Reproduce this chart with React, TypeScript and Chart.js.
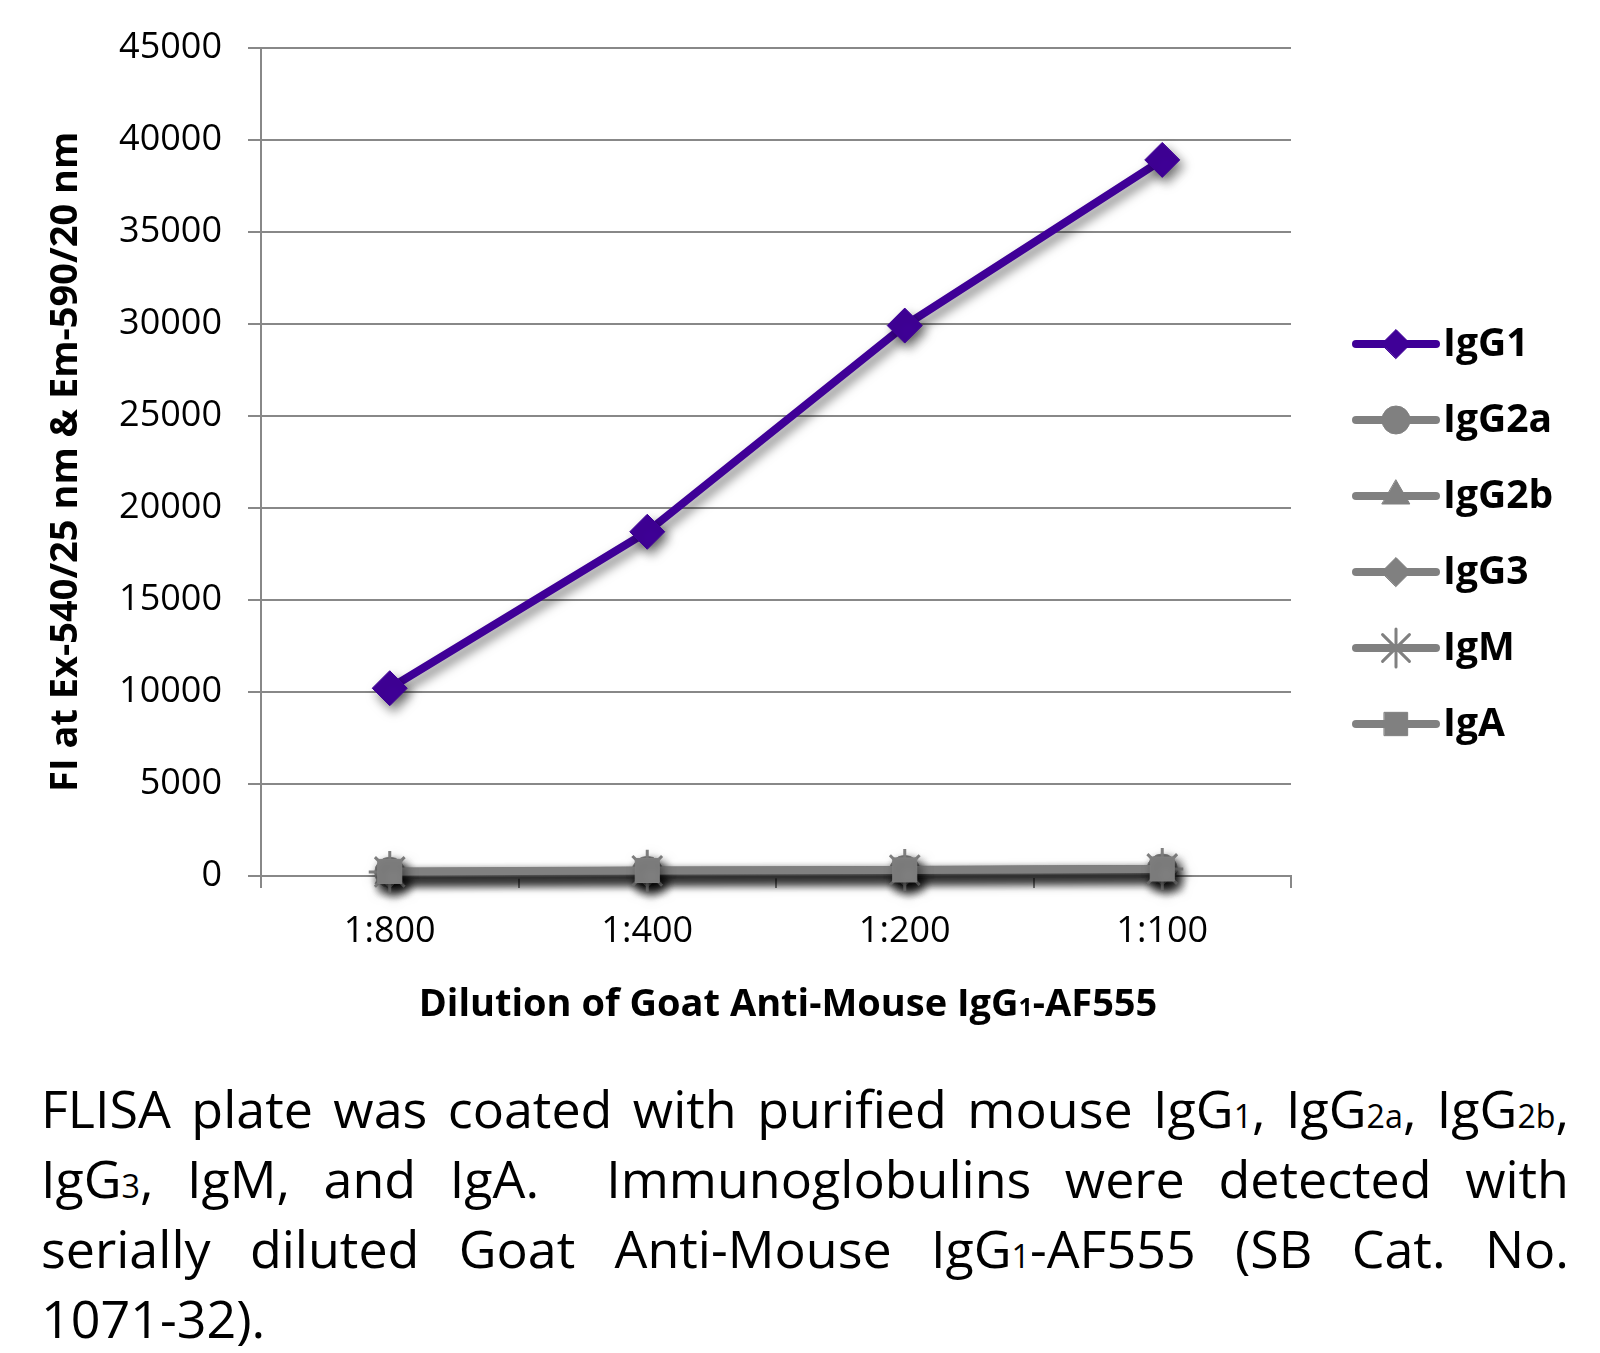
import React, { useEffect, useRef } from 'react';
import { Chart, registerables } from 'chart.js';
import { drawPoint } from 'chart.js/helpers';

Chart.register(...registerables);

const categories = ['1:800', '1:400', '1:200', '1:100'];
const seriesNames = ['IgG1', 'IgG2a', 'IgG2b', 'IgG3', 'IgM', 'IgA'];
const igg1 = [10200, 18700, 29900, 38900];
const igg2a = [200, 250, 300, 380];
const igg2b = [50, 80, 100, 120];
const igg3 = [150, 200, 250, 300];
const igm = [220, 280, 320, 380];
const iga = [250, 300, 330, 380];
const seriesData = [igg1, igg2a, igg2b, igg3, igm, iga];
const yMin = 0;
const yMax = 45000;
const yStep = 5000;
const xTitleParts = ['Dilution of Goat Anti-Mouse IgG', '1', '-AF555'];
const yTitle = 'FI at Ex-540/25 nm & Em-590/20 nm';

const PURPLE = '#3F0097';
const GRAY = '#808080';
const GRID = '#888888';
const FONT = "'Open Sans', 'Noto Sans', sans-serif";

const colors = [PURPLE, GRAY, GRAY, GRAY, GRAY, GRAY];
const pointStyles = ['rectRot', 'circle', 'triangle', 'rectRot', 'star', 'rect'];
const pointRadii = [17.5, 15, 17, 15, 21, 17];
const legendRadii = [14.5, 14, 16, 14.5, 19, 16.5];

const shadowPlugin = {
  id: 'shadowPlugin',
  beforeDatasetsDraw(chart: any) {
    const c = chart.ctx;
    c.save();
    c.shadowColor = 'rgba(0,0,0,0.5)';
    c.shadowBlur = 11;
    c.shadowOffsetX = 4;
    c.shadowOffsetY = 6;
  },
  afterDatasetsDraw(chart: any) {
    chart.ctx.restore();
  },
};

const xTitlePlugin = {
  id: 'xTitle',
  afterDraw(chart: any) {
    const ctx = chart.ctx;
    ctx.save();
    const big = `bold 38px ${FONT}`;
    const small = `bold 25px ${FONT}`;
    ctx.font = big;
    const w0 = ctx.measureText(xTitleParts[0]).width;
    const w2 = ctx.measureText(xTitleParts[2]).width;
    ctx.font = small;
    const w1 = ctx.measureText(xTitleParts[1]).width;
    const total = w0 + w1 + w2;
    let x = 788 - total / 2;
    const baseline = 1016;
    ctx.fillStyle = '#000';
    ctx.textAlign = 'left';
    ctx.textBaseline = 'alphabetic';
    ctx.font = big;
    ctx.fillText(xTitleParts[0], x, baseline);
    x += w0;
    ctx.font = small;
    ctx.fillText(xTitleParts[1], x, baseline);
    x += w1;
    ctx.font = big;
    ctx.fillText(xTitleParts[2], x, baseline);
    ctx.restore();
  },
};

const legendPlugin = {
  id: 'customLegend',
  afterDraw(chart: any) {
    const ctx = chart.ctx;
    const top = 344;
    const step = 76;
    chart.data.datasets.forEach((ds: any, i: number) => {
      const y = top + i * step;
      ctx.save();
      ctx.strokeStyle = ds.borderColor;
      ctx.lineWidth = 8;
      ctx.lineCap = 'round';
      ctx.beginPath();
      ctx.moveTo(1356, y);
      ctx.lineTo(1436, y);
      ctx.stroke();
      ctx.fillStyle = ds.backgroundColor;
      ctx.strokeStyle = ds.borderColor;
      ctx.lineWidth = ds.pointStyle === 'star' ? 3 : 1;
      drawPoint(ctx, { pointStyle: ds.pointStyle, radius: legendRadii[i], rotation: 0, borderWidth: ctx.lineWidth } as any, 1396, y);
      ctx.fillStyle = '#000';
      ctx.font = `bold 39px ${FONT}`;
      ctx.textBaseline = 'middle';
      ctx.textAlign = 'left';
      ctx.fillText(ds.label, 1443, y + 1);
      ctx.restore();
    });
  },
};

function App() {
  const ref = useRef<HTMLCanvasElement>(null);
  useEffect(() => {
    if (!ref.current) return;
    const chart = new Chart(ref.current, {
      type: 'line',
      data: {
        labels: categories,
        datasets: seriesNames.map((name, i) => ({
          label: name,
          data: seriesData[i],
          borderColor: colors[i],
          backgroundColor: colors[i],
          borderWidth: 8,
          pointStyle: pointStyles[i] as any,
          pointRadius: pointRadii[i],
          pointBackgroundColor: colors[i],
          pointBorderColor: colors[i],
          pointBorderWidth: pointStyles[i] === 'star' ? 3 : 1,
          tension: 0,
          clip: false as any,
          order: seriesNames.length - i,
        })),
      },
      options: {
        responsive: false,
        animation: false,
        layout: { padding: { top: 46, right: 309, bottom: 0, left: 0 } },
        plugins: { legend: { display: false }, tooltip: { enabled: false } },
        scales: {
          x: {
            offset: true,
            grid: { offset: true, drawOnChartArea: false, color: GRID, lineWidth: 2, tickLength: 12, tickColor: GRID },
            border: { color: GRID, width: 2 },
            ticks: { font: { family: FONT, size: 36 }, color: '#000', padding: 22, maxRotation: 0 },
            title: { display: false },
            afterFit: (s: any) => { s.height = 164; },
          },
          y: {
            min: yMin,
            max: yMax,
            ticks: {
              stepSize: yStep,
              font: { family: FONT, size: 36 },
              color: '#000',
              padding: 26,
              callback: (v: any) => String(v),
            },
            grid: { color: GRID, lineWidth: 2, tickLength: 13, tickColor: GRID },
            border: { color: GRID, width: 2 },
            title: {
              display: true,
              text: yTitle,
              font: { family: FONT, size: 38, weight: 'bold' },
              color: '#000',
              padding: { top: 43, bottom: 0 },
            },
            afterFit: (s: any) => { s.width = 261; },
          },
        },
      },
      plugins: [shadowPlugin, legendPlugin, xTitlePlugin],
    } as any);
    return () => chart.destroy();
  }, []);

  const sub = (t: string) => <span style={{ fontSize: '0.62em' }}>{t}</span>;
  const lineStyle: React.CSSProperties = {
    textAlign: 'justify',
    textAlignLast: 'justify' as any,
    whiteSpace: 'normal',
    height: 70,
  };

  return (
    <div style={{ position: 'absolute', left: 0, top: 0, width: 1600, height: 1353, background: '#fff' }}>
      <canvas ref={ref} width={1600} height={1040} style={{ position: 'absolute', left: 0, top: 0 }} />
      <div
        style={{
          position: 'absolute',
          left: 41,
          top: 1073,
          width: 1528,
          fontFamily: FONT,
          fontSize: 52,
          lineHeight: '70px',
          color: '#000',
        }}
      >
        <div style={lineStyle}>FLISA plate was coated with purified mouse IgG{sub('1')}, IgG{sub('2a')}, IgG{sub('2b')},</div>
        <div style={lineStyle}>IgG{sub('3')}, IgM, and IgA.&nbsp; Immunoglobulins were detected with</div>
        <div style={lineStyle}>serially diluted Goat Anti-Mouse IgG{sub('1')}-AF555 (SB Cat. No.</div>
        <div style={{ height: 70 }}>1071-32).</div>
      </div>
    </div>
  );
}

export default App;
